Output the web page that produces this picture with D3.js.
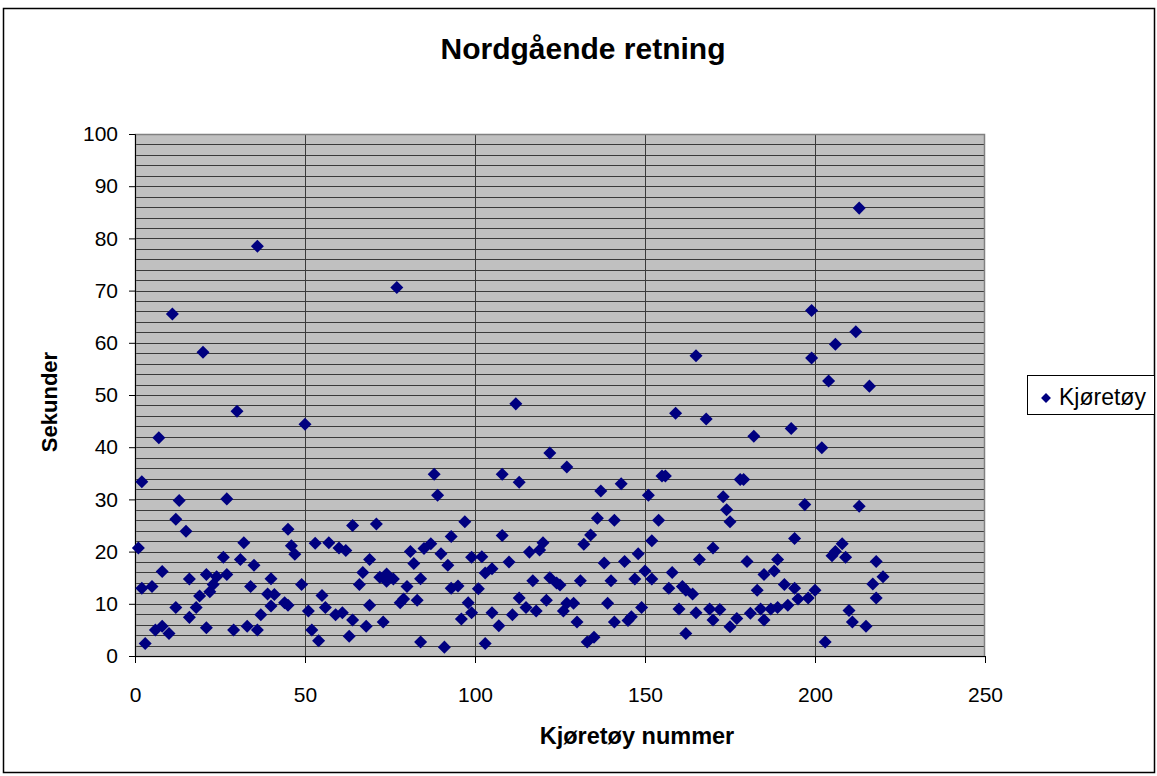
<!DOCTYPE html>
<html>
<head>
<meta charset="utf-8">
<script src="https://cdn.jsdelivr.net/npm/d3@7"></script>
<style>
  body { margin: 0; background: #fff; }
  text { font-family: "Liberation Sans", Arial, sans-serif; }
</style>
</head>
<body>
<div id="chart"></div>
<script>
// vehicle number (x) and seconds (y)
var vehicle = [1,2,2,3,5,6,7,8,8,10,11,12,12,13,15,16,16,18,19,20,21,21,22,23,24,26,27,27,29,30,
  31,32,33,34,35,36,36,37,39,40,40,41,44,45,45,46,47,49,50,51,52,53,54,55,56,57,59,60,61,62,
  63,64,64,66,67,68,69,69,71,72,73,74,74,76,77,78,79,80,81,82,83,84,84,85,87,88,89,90,91,92,
  93,93,95,96,97,98,99,99,101,102,103,103,105,105,107,108,108,110,111,112,113,113,115,116,117,118,119,120,121,122,
  122,124,125,126,127,127,129,130,131,132,133,134,135,136,137,138,139,140,141,141,143,144,145,146,147,148,149,150,151,152,
  152,154,155,156,157,158,159,160,161,162,162,164,165,165,166,168,169,170,170,172,173,174,175,175,177,178,179,180,181,182,
  183,184,185,185,187,188,189,189,191,192,193,194,194,195,197,198,199,199,200,202,203,204,205,206,206,208,209,210,211,212,
  213,213,215,216,217,218,218,220];
var seconds = [20.7,33.4,13,2.4,13.3,5,41.8,16.2,5.7,4.3,65.5,26.2,9.3,29.8,23.9,14.75,7.4,9.3,11.5,58.2,15.6,5.4,12.3,13.7,15.2,18.9,30.1,15.6,5,46.9,
  18.5,21.7,5.7,13.3,17.4,78.5,5,7.9,11.9,14.8,9.6,11.8,10.2,24.3,9.7,21.1,19.5,13.7,44.4,8.6,5,21.6,2.9,11.6,9.3,21.7,7.9,20.7,8.3,20.2,
  3.8,25,6.9,13.7,16,5.7,18.5,9.7,25.3,15.1,6.5,15.7,14.3,14.75,70.6,10.2,10.9,13.3,20,17.7,10.7,14.8,2.7,20.6,21.5,34.8,30.8,19.6,1.7,17.4,
  22.9,13,13.4,7.1,25.7,10.2,18.9,8.3,12.9,19,15.9,2.4,16.7,8.3,5.8,34.8,23.1,18,7.9,48.3,33.3,11.1,9.3,19.9,14.4,8.6,20.3,21.7,10.7,38.9,
  15,14,13.6,8.6,36.2,10.1,10.1,6.5,14.4,21.4,2.7,23.2,3.6,26.4,31.6,17.8,10.1,14.4,26,6.5,33,18.1,6.8,7.5,14.75,19.6,9.3,16.3,30.8,22.1,
  14.75,26,34.5,34.5,13,16,46.5,9,13.3,4.3,12.6,11.9,57.5,8.3,18.5,45.4,9,20.7,6.9,8.9,30.5,28,25.7,5.6,7.2,33.8,33.8,18.1,8.2,42.1,
  12.6,9,15.6,6.9,9,16.3,18.5,9.3,13.7,9.7,43.6,22.5,13,10.9,29,11.1,66.2,57.1,12.6,39.9,2.7,52.7,19.2,59.7,20,21.5,18.9,8.7,6.5,62.1,
  85.8,28.7,5.7,51.7,13.8,18.1,11.1,15.2];
var xTicks = [0,50,100,150,200,250];
var yTicks = [0,10,20,30,40,50,60,70,80,90,100];
var seriesName = "Kjøretøy";

var svgwidth = 1157, svgheight = 776;
var margin = {top: 134, left: 135, right: 172, bottom: 120};
var width = 985 - margin.left;
var height = 656 - margin.top;

var svg = d3.select("#chart").append("svg").attr("width", svgwidth).attr("height", svgheight);

// outer frame
svg.append("rect").attr("x", 3.5).attr("y", 8.5).attr("width", 1151).attr("height", 764)
  .attr("fill", "#fff").attr("stroke", "#000").attr("stroke-width", 1.5);

svg.append("text").attr("x", 583).attr("y", 59).attr("text-anchor", "middle")
  .attr("font-size", 30).attr("font-weight", "bold").text("Nordgående retning");

var chartgp = svg.append("g").attr("transform", `translate(${margin.left}, ${margin.top})`);

var xscale = d3.scaleLinear().domain([0, 250]).range([0, width]);
var yscale = d3.scaleLinear().domain([0, 100]).range([height, 0]);

chartgp.append("rect").attr("width", width).attr("height", height).attr("fill", "#c0c0c0");

// minor horizontal grid every 2 s, vertical at the x ticks
chartgp.append("g").selectAll("line").data(d3.range(2, 100, 2)).enter().append("line")
  .attr("x1", 0).attr("x2", width).attr("y1", d => Math.round(yscale(d)) + 0.5).attr("y2", d => Math.round(yscale(d)) + 0.5)
  .attr("stroke", "#3a3a3a").attr("stroke-width", 1);
chartgp.append("g").selectAll("line").data(xTicks.slice(1, -1)).enter().append("line")
  .attr("x1", d => Math.round(xscale(d)) + 0.5).attr("x2", d => Math.round(xscale(d)) + 0.5).attr("y1", 0).attr("y2", height)
  .attr("stroke", "#3a3a3a").attr("stroke-width", 1);

chartgp.append("rect").attr("x", 0.5).attr("y", 0.5).attr("width", width - 1).attr("height", height)
  .attr("fill", "none").attr("stroke", "#808080").attr("stroke-width", 1.5);

var axisbottom = d3.axisBottom(xscale).tickValues(xTicks).tickSize(7).tickPadding(24);
var axisleft = d3.axisLeft(yscale).tickValues(yTicks).tickSize(6).tickPadding(11);

var gx = chartgp.append("g").attr("transform", `translate(0, ${height})`).call(axisbottom);
var gy = chartgp.append("g").call(axisleft);
[gx, gy].forEach(function(g) {
  g.select(".domain").attr("stroke", "#000");
  g.selectAll(".tick line").attr("stroke", "#000");
  g.selectAll(".tick text").attr("font-size", 21).attr("fill", "#000")
    .attr("font-family", "'Liberation Sans', Arial, sans-serif");
});

chartgp.append("text").attr("transform", "rotate(-90)").attr("x", -268).attr("y", -78)
  .attr("text-anchor", "middle").attr("font-size", 22).attr("font-weight", "bold").text("Sekunder");
chartgp.append("text").attr("x", 502).attr("y", height + 88).attr("text-anchor", "middle")
  .attr("font-size", 23.5).attr("font-weight", "bold").text("Kjøretøy nummer");

var points = vehicle.map((v, i) => ({x: v, y: seconds[i]}));
chartgp.append("g").selectAll("rect").data(points).enter().append("rect")
  .attr("x", -4.6).attr("y", -4.6).attr("width", 9.2).attr("height", 9.2)
  .attr("transform", d => `translate(${xscale(d.x)}, ${yscale(d.y)}) rotate(45)`)
  .attr("fill", "#000080");

// legend
var lg = svg.append("g");
lg.append("rect").attr("x", 1027.5).attr("y", 375.5).attr("width", 127).attr("height", 39)
  .attr("fill", "#fff").attr("stroke", "#000");
lg.append("rect").attr("x", -3.5).attr("y", -3.5).attr("width", 7).attr("height", 7)
  .attr("transform", "translate(1046, 398) rotate(45)").attr("fill", "#000080");
lg.append("text").attr("x", 1059).attr("y", 405).attr("font-size", 23).text(seriesName);
</script>
</body>
</html>
